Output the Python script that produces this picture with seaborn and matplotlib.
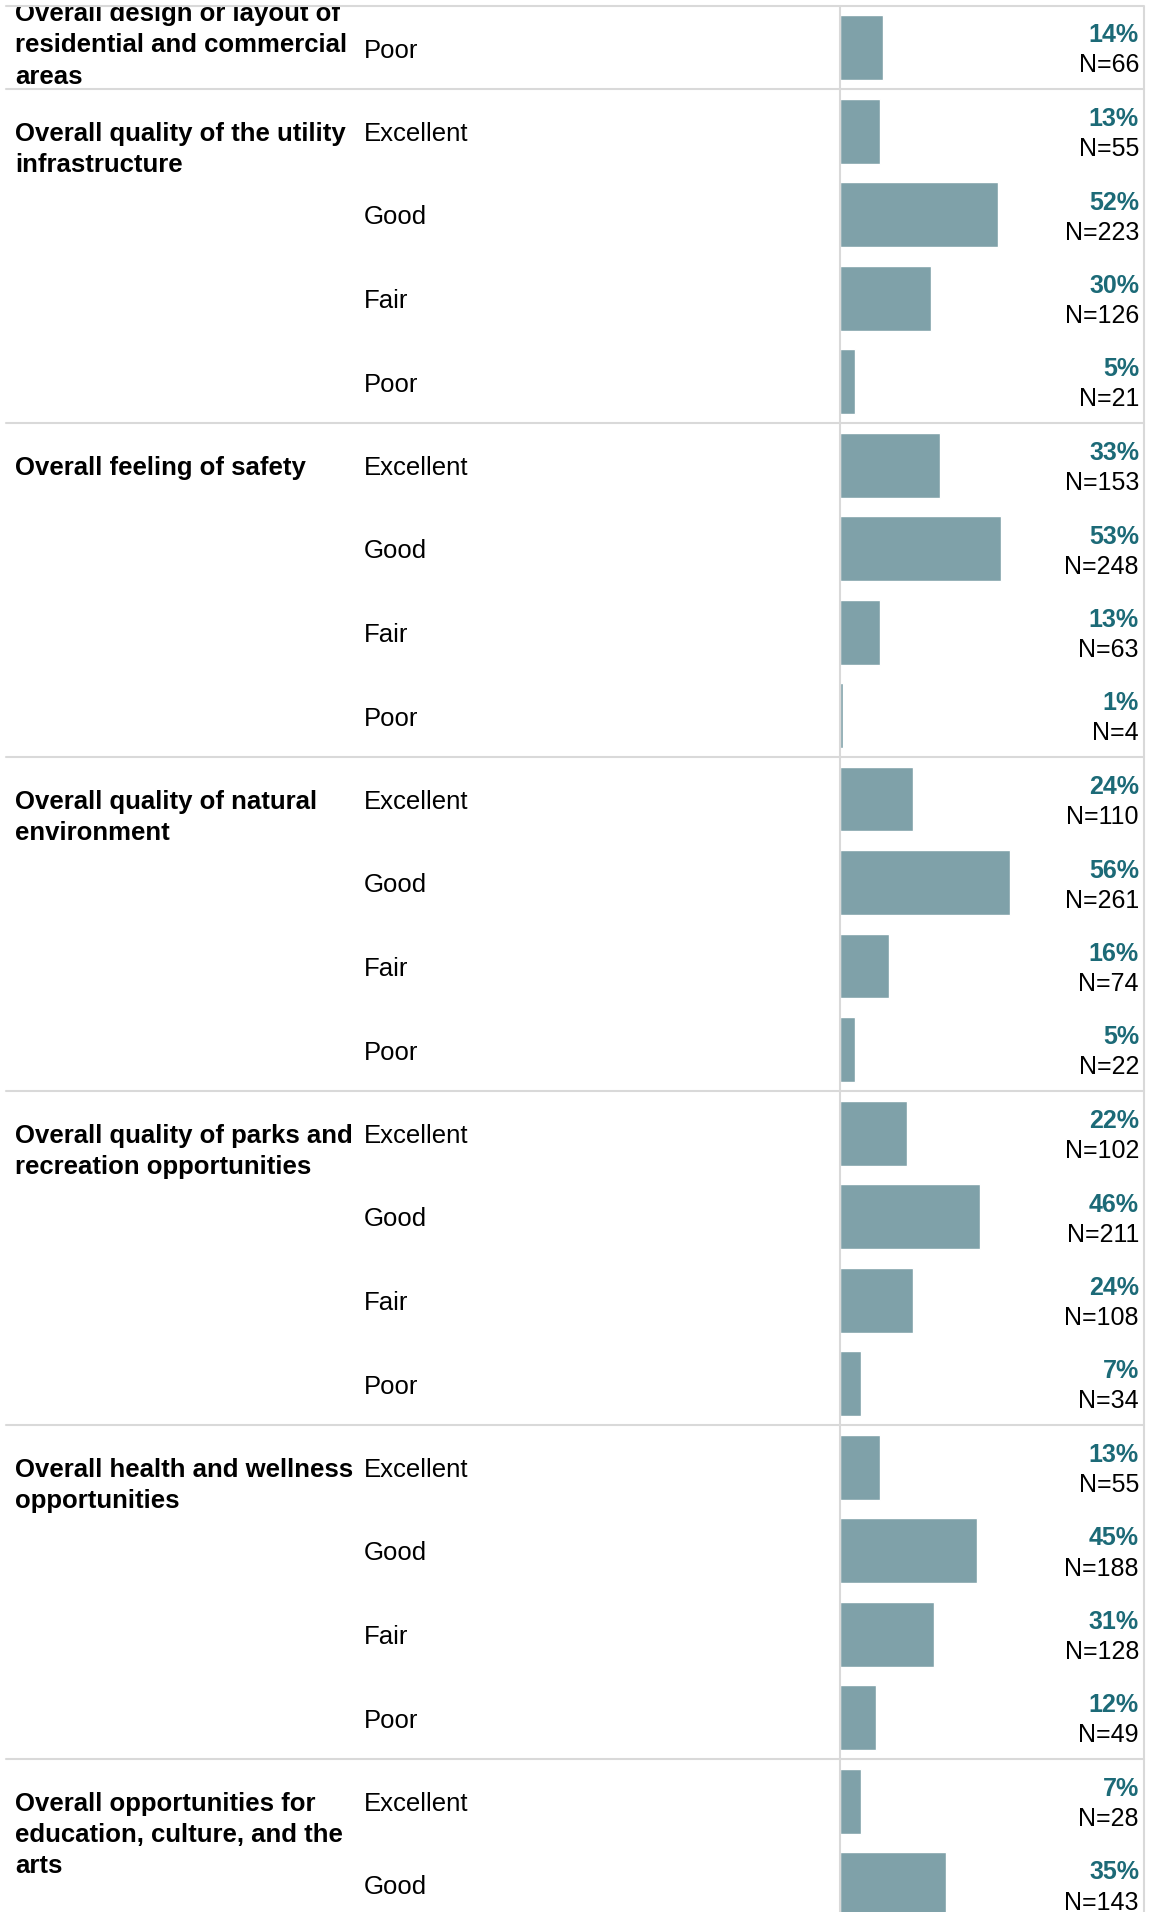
import matplotlib
matplotlib.use("Agg")
import matplotlib.pyplot as plt
import matplotlib.transforms as mtransforms
from matplotlib.lines import Line2D
from matplotlib.patches import Rectangle
import seaborn as sns
import pandas as pd

sns.set_theme(style="white")
plt.rcParams['font.family'] = ['Liberation Sans', 'DejaVu Sans']

# ---- data ----
group_titles = [
    ["Overall design or layout of", "residential and commercial", "areas"],
    ["Overall quality of the utility", "infrastructure"],
    ["Overall feeling of safety"],
    ["Overall quality of natural", "environment"],
    ["Overall quality of parks and", "recreation opportunities"],
    ["Overall health and wellness", "opportunities"],
    ["Overall opportunities for", "education, culture, and the", "arts"],
]
group_ratings = [
    ["Poor"],
    ["Excellent", "Good", "Fair", "Poor"],
    ["Excellent", "Good", "Fair", "Poor"],
    ["Excellent", "Good", "Fair", "Poor"],
    ["Excellent", "Good", "Fair", "Poor"],
    ["Excellent", "Good", "Fair", "Poor"],
    ["Excellent", "Good"],
]
group_pcts = [
    [14],
    [13, 52, 30, 5],
    [33, 53, 13, 1],
    [24, 56, 16, 5],
    [22, 46, 24, 7],
    [13, 45, 31, 12],
    [7, 35],
]
group_ns = [
    [66],
    [55, 223, 126, 21],
    [153, 248, 63, 4],
    [110, 261, 74, 22],
    [102, 211, 108, 34],
    [55, 188, 128, 49],
    [28, 143],
]

rows = []
r = 0
for gi, (rat, pc, ns) in enumerate(zip(group_ratings, group_pcts, group_ns)):
    for k, (a, p, n) in enumerate(zip(rat, pc, ns)):
        rows.append(dict(row=r, group=gi, rating=a, pct=p, n=n, first=(k == 0)))
        r += 1
df = pd.DataFrame(rows)
nrows = len(df)

# ---- layout (pixels) ----
W, H = 1159, 1912
dpi = 100
fig = plt.figure(figsize=(W / dpi, H / dpi), dpi=dpi)
x0, x1 = 840, 1144
row_px = 83.5
c0 = 47.5
ax = fig.add_axes([x0 / W, 0, (x1 - x0) / W, 1])

bar_color = "#7FA1A9"
text_color = "#1C6A77"
line_color = "#D9D9D9"

sns.barplot(data=df, x="pct", y="row", orient="h", order=list(range(nrows)),
            color=bar_color, width=65 / row_px, saturation=1, ax=ax)

ax.set_xlim(0, 100)
ax.set_ylim((H - c0) / row_px, -c0 / row_px)
ax.axis("off")

tr = mtransforms.blended_transform_factory(fig.transFigure, ax.transData)
line_dy = 31 / row_px
dy = 3 / row_px
fs_lab = 18.5
fs_val = 18

for _, rw in df.iterrows():
    y = rw["row"] + dy
    fig.text(364 / W, y, rw["rating"], transform=tr, ha="left", va="center",
             fontsize=fs_lab, color="black")
    fig.text(1139 / W, y - 15 / row_px, f"{rw['pct']}%", transform=tr, ha="right",
             va="center", fontsize=fs_val, fontweight="bold", color=text_color)
    fig.text(1139 / W, y + 15 / row_px, f"N={rw['n']}", transform=tr, ha="right",
             va="center", fontsize=fs_val, color="black")

# group titles
for gi, title in enumerate(group_titles):
    first_row = df[df.group == gi]["row"].min()
    if gi == 0:
        start = first_row - line_dy - 2 / row_px
    else:
        start = first_row + dy
    for li, line in enumerate(title):
        fig.text(15 / W, start + li * line_dy, line, transform=tr, ha="left",
                 va="center", fontsize=fs_lab, fontweight="bold", color="black")

# clip region above the top border
fig.add_artist(Rectangle((0, 1 - 6 / H), 1, 6 / H, transform=fig.transFigure,
                         facecolor="white", edgecolor="none", zorder=10))

# separators
def hline_at_px(ypx):
    yf = 1 - ypx / H
    fig.add_artist(Line2D([6 / W, x1 / W], [yf, yf], color=line_color, lw=1.5,
                          zorder=11))

hline_at_px(6)
for gi in range(1, len(group_titles)):
    first_row = df[df.group == gi]["row"].min()
    ypx = c0 + (first_row - 0.5) * row_px
    hline_at_px(ypx)

fig.add_artist(Line2D([x0 / W, x0 / W], [0, 1 - 6 / H], color=line_color, lw=1.5))
fig.add_artist(Line2D([x1 / W, x1 / W], [0, 1 - 6 / H], color=line_color, lw=1.5))

fig.savefig("out.png", dpi=dpi, facecolor="white")
